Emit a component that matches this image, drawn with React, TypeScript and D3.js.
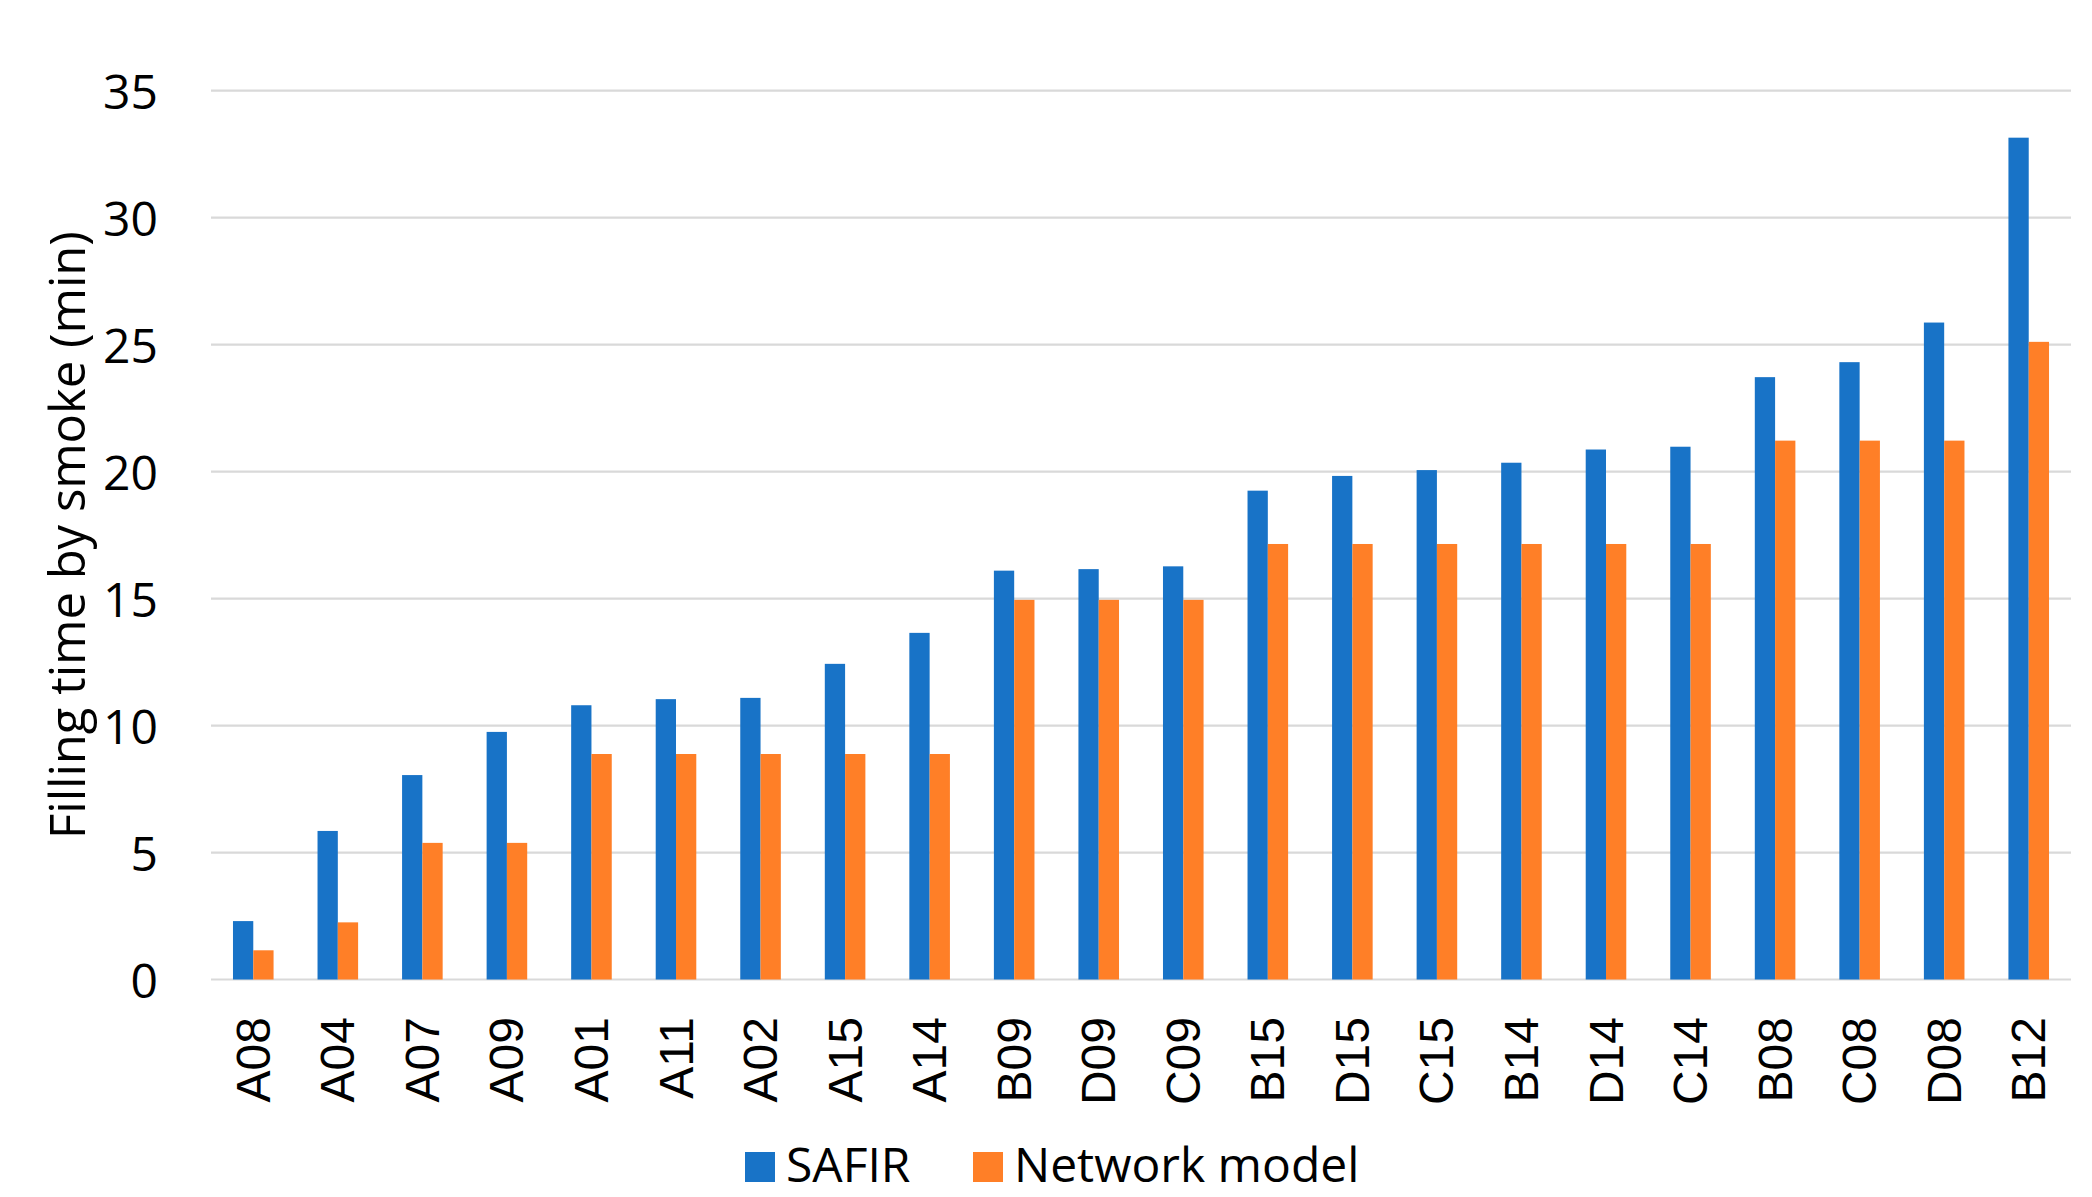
import { useEffect, useRef } from "react";
import * as d3 from "d3";

const CATEGORIES = [
  "A08", "A04", "A07", "A09", "A01", "A11", "A02", "A15", "A14", "B09", "D09",
  "C09", "B15", "D15", "C15", "B14", "D14", "C14", "B08", "C08", "D08", "B12",
];

const SAFIR = [
  2.3, 5.85, 8.05, 9.75, 10.8, 11.04, 11.09, 12.43, 13.65, 16.1, 16.16,
  16.27, 19.25, 19.83, 20.06, 20.35, 20.87, 20.98, 23.72, 24.31, 25.87, 33.15,
];

const NETWORK = [
  1.15, 2.25, 5.38, 5.38, 8.88, 8.88, 8.88, 8.88, 8.88, 14.95, 14.95,
  14.95, 17.15, 17.15, 17.15, 17.15, 17.15, 17.15, 21.22, 21.22, 21.22, 25.11,
];

const SERIES = ["SAFIR", "Network model"];
const COLORS = ["#1873c7", "#ff7f27"];
const Y_TICKS = [0, 5, 10, 15, 20, 25, 30, 35];

const W = 2092;
const H = 1197;

export default function App() {
  const svgRef = useRef<SVGSVGElement>(null);

  useEffect(() => {
    document.body.style.margin = "0";
    if (!svgRef.current) return;

    const svg = d3.select(svgRef.current);
    svg.selectAll("*").remove();

    const margin = { top: 90.7, right: 21, bottom: 217.5, left: 211 };

    const x = d3.scaleBand()
      .domain(CATEGORIES)
      .range([margin.left, W - margin.right])
      .paddingInner(0.52)
      .paddingOuter(0.26);

    const xs = d3.scaleBand().domain(SERIES).range([0, x.bandwidth()]);

    const y = d3.scaleLinear()
      .domain([0, 35])
      .range([H - margin.bottom, margin.top]);

    // gridlines
    svg.append("g")
      .selectAll("line")
      .data(Y_TICKS)
      .join("line")
      .attr("x1", margin.left)
      .attr("x2", W - margin.right)
      .attr("y1", (d) => y(d))
      .attr("y2", (d) => y(d))
      .attr("stroke", "#d9d9d9")
      .attr("stroke-width", 2.2);

    // y tick labels
    svg.append("g")
      .selectAll("text")
      .data(Y_TICKS)
      .join("text")
      .attr("x", 158)
      .attr("y", (d) => y(d))
      .attr("text-anchor", "end")
      .attr("dominant-baseline", "central")
      .attr("font-family", "'Open Sans', sans-serif")
      .attr("font-size", 48)
      .attr("fill", "#000")
      .text((d) => d);

    // bars
    const rows = CATEGORIES.map((c, i) => ({ cat: c, vals: [SAFIR[i], NETWORK[i]] }));
    const groups = svg.append("g")
      .selectAll("g")
      .data(rows)
      .join("g")
      .attr("transform", (d) => `translate(${x(d.cat)},0)`);

    groups.selectAll("rect")
      .data((d) => d.vals.map((v, j) => ({ key: SERIES[j], v, j })))
      .join("rect")
      .attr("x", (d) => xs(d.key)!)
      .attr("width", xs.bandwidth())
      .attr("y", (d) => y(d.v))
      .attr("height", (d) => y(0) - y(d.v))
      .attr("fill", (d) => COLORS[d.j]);

    // category labels
    svg.append("g")
      .selectAll("text")
      .data(CATEGORIES)
      .join("text")
      .attr("transform", (d) => `translate(${x(d)! + x.bandwidth() / 2},1017) rotate(-90)`)
      .attr("text-anchor", "end")
      .attr("dominant-baseline", "central")
      .attr("font-family", "'Liberation Sans', Arial, sans-serif")
      .attr("font-size", 48)
      .attr("fill", "#000")
      .text((d) => d);

    // axis title
    svg.append("text")
      .attr("transform", `translate(66,${(y(0) + y(35)) / 2}) rotate(-90)`)
      .attr("text-anchor", "middle")
      .attr("dominant-baseline", "central")
      .attr("font-family", "'Open Sans', sans-serif")
      .attr("font-size", 49)
      .attr("fill", "#000")
      .text("Filling time by smoke (min)");

    // legend
    const legendX = [745, 973];
    const legend = svg.append("g")
      .selectAll("g")
      .data(SERIES)
      .join("g")
      .attr("transform", (_, i) => `translate(${legendX[i]},1152)`);
    legend.append("rect")
      .attr("width", 30)
      .attr("height", 30)
      .attr("fill", (_, i) => COLORS[i]);
    legend.append("text")
      .attr("x", 41)
      .attr("y", 30)
      .attr("font-family", "'Open Sans', sans-serif")
      .attr("font-size", 48)
      .attr("fill", "#000")
      .text((d) => d);
  }, []);

  return <svg ref={svgRef} width={W} height={H} style={{ display: "block", background: "#fff" }} />;
}
